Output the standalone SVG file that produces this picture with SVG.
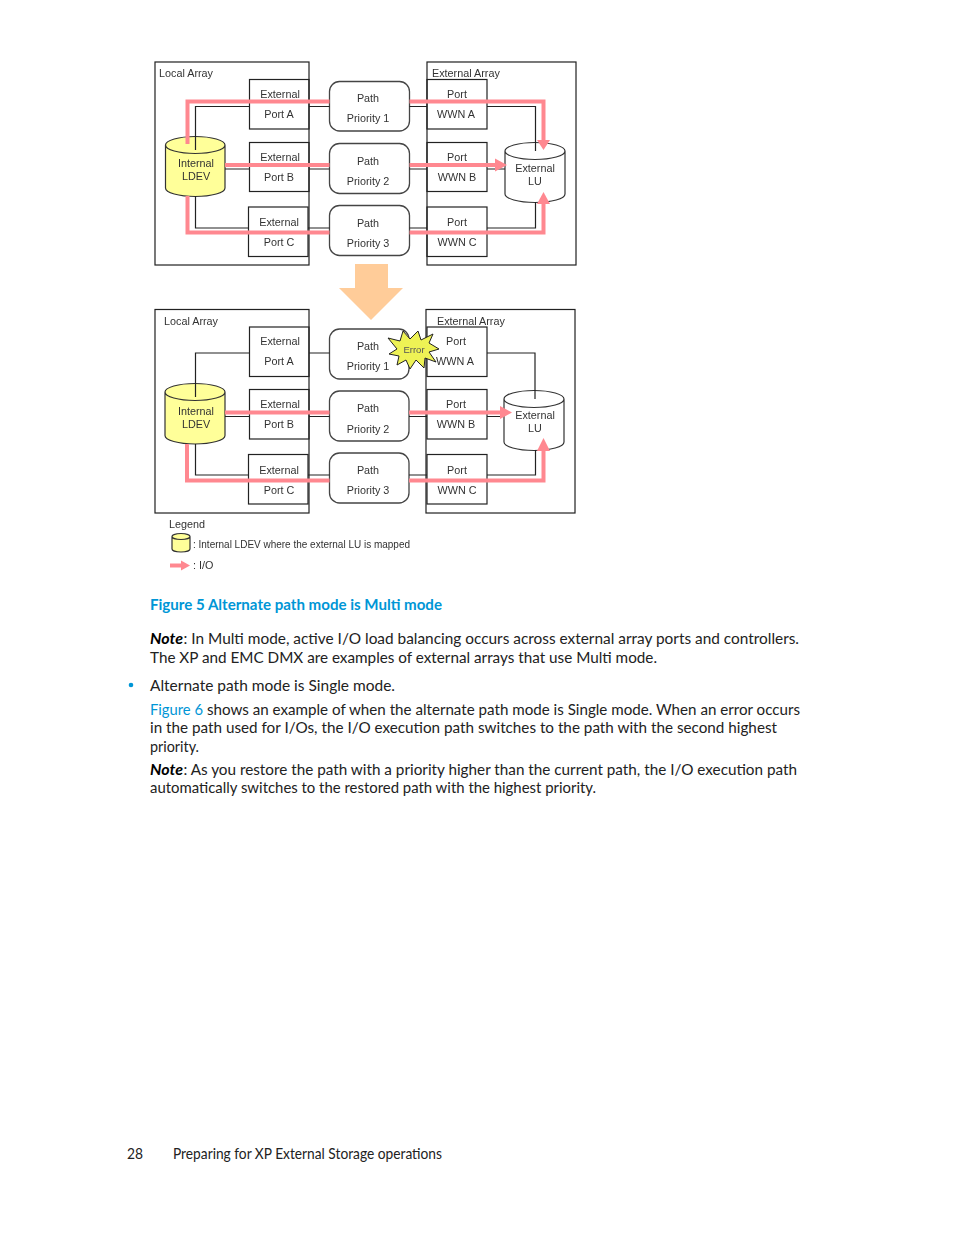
<svg xmlns="http://www.w3.org/2000/svg" width="954" height="1235" viewBox="0 0 954 1235">
<style>
.frame{fill:#fff;stroke:#222;stroke-width:1.2}
.port{fill:none;stroke:#222;stroke-width:1.2}
.path{fill:#fff;stroke:#444;stroke-width:1.3}
.cy{fill:#ffff99;stroke:#333;stroke-width:1.2}
.cw{fill:#fff;stroke:#333;stroke-width:1.2}
.t{font-family:"Liberation Sans",Arial,sans-serif;font-size:10.8px;fill:#333;text-anchor:middle}
.l{text-anchor:start}
.k{fill:none;stroke:#222;stroke-width:1.2}
.p{fill:none;stroke:#ff8890;stroke-width:4}
.ah{fill:#ff8890}
.b{font-family:Lato,"Noto Sans",sans-serif;font-size:16px;fill:#222}
.n{font-weight:700;font-style:italic;fill:#000}
.f{font-size:15px}
.lnk{fill:#0096d6}
</style>
<defs>
<filter id="soft" filterUnits="userSpaceOnUse" x="140" y="50" width="450" height="530"><feGaussianBlur stdDeviation="0.45"/></filter>
</defs>
<rect width="954" height="1235" fill="#fff"/>
<g filter="url(#soft)">
<g id="local-array-top"><rect class="frame" x="155" y="62" width="154" height="203"/><text class="t l" x="159" y="77">Local Array</text></g>
<g id="external-array-top"><rect class="frame" x="427" y="62" width="149" height="203"/><text class="t l" x="432" y="77">External Array</text></g>
<g id="port-a-top"><rect class="port" x="249.500" y="79.500" width="59.500" height="49.500"/><text class="t" x="280" y="97.500">External</text><text class="t" x="279" y="118">Port A</text></g>
<g id="port-b-top"><rect class="port" x="249.500" y="142.500" width="59.500" height="49"/><text class="t" x="280" y="160.500">External</text><text class="t" x="279" y="181">Port B</text></g>
<g id="port-c-top"><rect class="port" x="248.500" y="207" width="59.500" height="49.500"/><text class="t" x="279" y="226">External</text><text class="t" x="279" y="246">Port C</text></g>
<g id="path-1-top"><rect class="path" x="329.500" y="81.500" width="80" height="49.500" rx="10"/><text class="t" x="368" y="102">Path</text><text class="t" x="368" y="122">Priority 1</text></g>
<g id="path-2-top"><rect class="path" x="329.500" y="143.500" width="80" height="50" rx="10"/><text class="t" x="368" y="164.500">Path</text><text class="t" x="368" y="185">Priority 2</text></g>
<g id="path-3-top"><rect class="path" x="329.500" y="205.500" width="80" height="50" rx="10"/><text class="t" x="368" y="226.500">Path</text><text class="t" x="368" y="246.500">Priority 3</text></g>
<g id="wwn-a-top"><rect class="port" x="427" y="79.500" width="60" height="49.500"/><text class="t" x="457" y="97.500">Port</text><text class="t" x="456" y="118">WWN A</text></g>
<g id="wwn-b-top"><rect class="port" x="427" y="142.500" width="60" height="49"/><text class="t" x="457" y="160.500">Port</text><text class="t" x="457" y="181">WWN B</text></g>
<g id="wwn-c-top"><rect class="port" x="427" y="207" width="60" height="49.500"/><text class="t" x="457" y="226">Port</text><text class="t" x="457" y="246">WWN C</text></g>
<g id="ldev-top"><path class="cy" d="M165.500 145V188A29.750 8.500 0 0 0 225 188V145A29.750 8.500 0 0 0 165.500 145A29.750 8.500 0 0 0 225 145"/><text class="t" x="196" y="167">Internal</text><text class="t" x="196" y="180">LDEV</text></g>
<g id="lu-top"><path class="cw" d="M505 151V194A30 8.500 0 0 0 565 194V151A30 8.500 0 0 0 505 151A30 8.500 0 0 0 565 151"/><text class="t" x="535" y="172">External</text><text class="t" x="535" y="185">LU</text></g>

<polygon id="flow-arrow" points="355,264 388,264 388,288 403,288 371,320 339,288 355,288" fill="#ffcc99"/>

<g id="local-array-bottom"><rect class="frame" x="155" y="309.500" width="154" height="203.500"/><text class="t l" x="164" y="324.500">Local Array</text></g>
<g id="external-array-bottom"><rect class="frame" x="426" y="309.500" width="149" height="203.500"/><text class="t l" x="437" y="324.500">External Array</text></g>
<g id="port-a-bottom"><rect class="port" x="249.500" y="327" width="59.500" height="49.500"/><text class="t" x="280" y="345">External</text><text class="t" x="279" y="365">Port A</text></g>
<g id="port-b-bottom"><rect class="port" x="249.500" y="389.500" width="59.500" height="49.500"/><text class="t" x="280" y="408">External</text><text class="t" x="279" y="428">Port B</text></g>
<g id="port-c-bottom"><rect class="port" x="248.500" y="454.500" width="59.500" height="49.500"/><text class="t" x="279" y="474">External</text><text class="t" x="279" y="494">Port C</text></g>
<g id="path-1-bottom"><rect class="path" x="329.500" y="329" width="79.500" height="50" rx="10"/><text class="t" x="368" y="350">Path</text><text class="t" x="368" y="370">Priority 1</text></g>
<g id="path-2-bottom"><rect class="path" x="329.500" y="391" width="79.500" height="50" rx="10"/><text class="t" x="368" y="412">Path</text><text class="t" x="368" y="432.500">Priority 2</text></g>
<g id="path-3-bottom"><rect class="path" x="329.500" y="453" width="79.500" height="50" rx="10"/><text class="t" x="368" y="474">Path</text><text class="t" x="368" y="494">Priority 3</text></g>
<g id="wwn-a-bottom"><rect class="port" x="427" y="327" width="60" height="49.500"/><text class="t" x="456" y="345">Port</text><text class="t" x="455" y="365">WWN A</text></g>
<g id="wwn-b-bottom"><rect class="port" x="427" y="389.500" width="60" height="49.500"/><text class="t" x="456" y="408">Port</text><text class="t" x="456" y="428">WWN B</text></g>
<g id="wwn-c-bottom"><rect class="port" x="427" y="454.500" width="60" height="49.500"/><text class="t" x="457" y="474">Port</text><text class="t" x="457" y="494">WWN C</text></g>
<g id="ldev-bottom"><path class="cy" d="M165 392V435.500A30 8.500 0 0 0 225 435.500V392A30 8.500 0 0 0 165 392A30 8.500 0 0 0 225 392"/><text class="t" x="196" y="414.500">Internal</text><text class="t" x="196" y="428">LDEV</text></g>
<g id="lu-bottom"><path class="cw" d="M504 399V442A30 8.500 0 0 0 564 442V399A30 8.500 0 0 0 504 399A30 8.500 0 0 0 564 399"/><text class="t" x="535" y="419">External</text><text class="t" x="535" y="432">LU</text></g>

<g id="connectors">
<path class="k" d="M195.500 150V106.500H249.500M309 106.500H329.500M409.500 106.500H427M487 106.500H535.500V151"/>
<path class="k" d="M225 169H249.500M309 169H329.500M409.500 169H427M487 169H505"/>
<path class="k" d="M195.500 196V228H248.500M308 228H329.500M409.500 228H427M487 228H535.500V202"/>
<path class="p" d="M187.500 144V101.500H329.500M409.500 101.500H543.500V142"/>
<polygon class="ah" points="537,140 550,140 543.500,150"/>
<path class="p" d="M225 165H329.500M409.500 165H497"/>
<polygon class="ah" points="495,158.500 495,171.500 507,165"/>
<path class="p" d="M187.500 196V232.500H329.500M409.500 232.500H543.500V202"/>
<polygon class="ah" points="537,204 550,204 543.500,192"/>

<path class="k" d="M195.500 397V353H249.500M309 353H329.500M487 353H535V399"/>
<path class="k" d="M225 416.500H249.500M309 416.500H329.500M409 416.500H427M487 416.500H504"/>
<path class="k" d="M195.500 444V475H248.500M308 475H329.500M409 475H427M487 475H535.500V450"/>
<path class="p" d="M225 412.500H329.500M409 412.500H502"/>
<polygon class="ah" points="500,406 500,419 512,412.500"/>
<path class="p" d="M187 444V480.500H329.500M409 480.500H543.500V450"/>
<polygon class="ah" points="537,451 550,451 543.500,438"/>
<path class="p" d="M170 565.500H182" stroke-width="3"/>
<polygon class="ah" points="181,560.500 181,570.500 190,565.500"/>
</g>

<g id="error"><polygon points="388,338 400,341 403,331 410,339 418,331 421,340 433,334 429,343 439,349 429,352 436,362 425,358 424,368 416,360 410,369 406,360 397,365 399,356 389,354 397,349" fill="#eef255" stroke="#222" stroke-width="1"/><text class="t" x="414" y="353" style="font-size:9.500px;fill:#555">Error</text></g>

<g id="legend">
<text class="t l" x="169" y="527.500">Legend</text>
<path class="cy" d="M172 536.500V549A9 3 0 0 0 190 549V536.500A9 3 0 0 0 172 536.500A9 3 0 0 0 190 536.500"/>
<text class="t l" x="193" y="547.500" textLength="217" lengthAdjust="spacingAndGlyphs">: Internal LDEV where the external LU is mapped</text>
<text class="t l" x="193" y="569">: I/O</text>
</g>
</g>

<g id="page-text">
<text x="150" y="610" textLength="292" lengthAdjust="spacingAndGlyphs" style="font-family:Lato,'Noto Sans',sans-serif;font-size:16px;font-weight:700;fill:#0096d6">Figure 5 Alternate path mode is Multi mode</text>
<text class="b n" x="150" y="644" textLength="33" lengthAdjust="spacingAndGlyphs">Note</text>
<text class="b" x="183.500" y="644" textLength="615.500" lengthAdjust="spacingAndGlyphs">: In Multi mode, active I/O load balancing occurs across external array ports and controllers.</text>
<text class="b" x="150" y="663" textLength="507" lengthAdjust="spacingAndGlyphs">The XP and EMC DMX are examples of external arrays that use Multi mode.</text>
<circle cx="131" cy="685" r="2.300" fill="#0096d6"/>
<text class="b" x="150" y="691" textLength="245" lengthAdjust="spacingAndGlyphs">Alternate path mode is Single mode.</text>
<text class="b lnk" x="150" y="715" textLength="53" lengthAdjust="spacingAndGlyphs">Figure 6</text>
<text class="b" x="207" y="715" textLength="593" lengthAdjust="spacingAndGlyphs">shows an example of when the alternate path mode is Single mode. When an error occurs</text>
<text class="b" x="150" y="733" textLength="627" lengthAdjust="spacingAndGlyphs">in the path used for I/Os, the I/O execution path switches to the path with the second highest</text>
<text class="b" x="150" y="752" textLength="49" lengthAdjust="spacingAndGlyphs">priority.</text>
<text class="b n" x="150" y="775" textLength="33" lengthAdjust="spacingAndGlyphs">Note</text>
<text class="b" x="183.500" y="775" textLength="613.500" lengthAdjust="spacingAndGlyphs">: As you restore the path with a priority higher than the current path, the I/O execution path</text>
<text class="b" x="150" y="793" textLength="446" lengthAdjust="spacingAndGlyphs">automatically switches to the restored path with the highest priority.</text>
<text class="b f" x="127" y="1159" textLength="16" lengthAdjust="spacingAndGlyphs">28</text>
<text class="b f" x="173" y="1159" textLength="269" lengthAdjust="spacingAndGlyphs">Preparing for XP External Storage operations</text>
</g>
</svg>
